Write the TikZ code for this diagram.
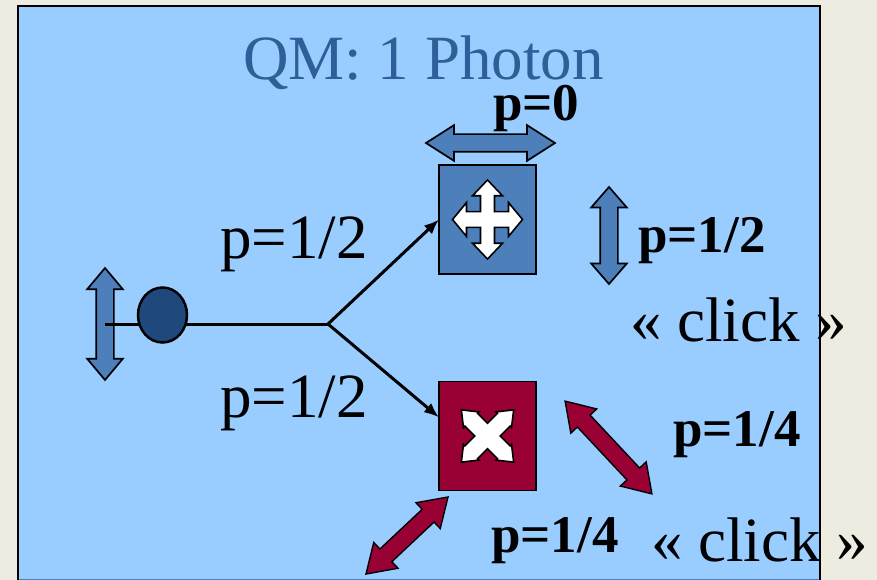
\documentclass[tikz,border=0pt]{standalone}
\usepackage{fontspec}
\setmainfont{Liberation Serif}
\usetikzlibrary{arrows.meta}
\usetikzlibrary{shapes.geometric}
\usetikzlibrary{shapes.arrows}

\definecolor{slide}{HTML}{99CCFF}
\definecolor{page}{HTML}{EEEBE0}
\definecolor{steel}{HTML}{4D7FBA}
\definecolor{navy}{HTML}{1F497D}
\definecolor{crimson}{HTML}{990033}
\definecolor{heading}{HTML}{2F5F99}

\tikzset{
    polar/.style={draw=black, line width=1.7pt, shape=double arrow, inner sep=0pt, inner ysep=8pt,
        double arrow head extend=9pt, minimum height=#1, double arrow tip angle=70, anchor=center},
    polar/.default=100pt,
    bluepol/.style={polar=#1, fill=steel},
    redpol/.style={polar=#1, fill=crimson, line width=1.4pt},
    filterbox/.style={draw=black, line width=1.5pt, minimum width=97pt, minimum height=109pt, inner sep=0pt, outer sep=0pt},
    ray/.style={line width=3pt, -{Latex[length=15pt,width=12pt]}},
    big/.style={anchor=base west, inner sep=0pt, font=\fontsize{63}{70}\selectfont},
    prob/.style={anchor=base west, inner sep=0pt, font=\fontsize{53}{60}\selectfont\bfseries},
}

% #1 scope options, #2 tip, #3 head base, #4 head half width, #5 shaft half width
\newcommand{\moveglyph}[5]{
    \begin{scope}[#1]
    \filldraw[fill=white, draw=black, line width=1.6pt, miter limit=4]
        (#2, 0) -- (#3, #4) -- (#3, #5) -- (#5, #5) -- (#5, #3) -- (#4, #3) --
        (0, #2) -- (-#4, #3) -- (-#5, #3) -- (-#5, #5) -- (-#3, #5) -- (-#3, #4) --
        (-#2, 0) -- (-#3, -#4) -- (-#3, -#5) -- (-#5, -#5) -- (-#5, -#3) -- (-#4, -#3) --
        (0, -#2) -- (#4, -#3) -- (#5, -#3) -- (#5, -#5) -- (#3, -#5) -- (#3, -#4) -- cycle;
    \end{scope}
}

\begin{document}
\begin{tikzpicture}[x=1pt, y=-1pt]
    \useasboundingbox (0, 0) rectangle (877, 580);
    \fill[page] (0, 0) rectangle (877, 580);
    \fill[slide] (18, 6) rectangle (820, 579);
    \draw[line width=1pt, steel] (18, 579) -- (820, 579);
    \draw[line width=2.5pt, line cap=rect] (18, 579) -- (18, 6) -- (820, 6) -- (820, 580);

    \node[big, text=heading] (title) at (243, 80) {QM: 1 Photon};

    \coordinate (split) at (328, 324);
    \node[bluepol=112pt, double arrow tip angle=80, rotate=90] (polin) at (105, 324) {};
    \draw[line width=3pt] (polin.center) -- (split);
    \node[draw=black, fill=navy, line width=2.5pt, shape=ellipse, minimum width=49pt, minimum height=55pt, inner sep=0pt] (photon) at (162.5, 315) {};

    \node[filterbox, fill=steel] (boxtop) at (487.5, 219.5) {};
    \node[filterbox, fill=crimson] (boxbot) at (487.5, 436) {};
    \moveglyph{shift={(boxtop.center)}, yscale=1.13}{35}{21}{15}{7}
    \moveglyph{shift={(boxbot.center)}, rotate=45}{37}{23}{11}{9}

    \draw[ray] (split) -- (boxtop.west);
    \draw[ray] (split) -- (boxbot.159);

    \node[bluepol=129pt, double arrow tip angle=65] (polh) at (490.5, 143) {};
    \node[bluepol=97pt, double arrow tip angle=82, rotate=90] (polv) at (609, 235.5) {};
    \node[redpol=127pt, double arrow tip angle=66, rotate=-46.9] (poldiag) at (608.5, 447.5) {};
    \node[redpol=112.5pt, double arrow tip angle=66, rotate=43.2] (polanti) at (407, 535.5) {};

    \node[big] (pup) at (220, 258) {p=1/2};
    \node[big] (pdown) at (220, 417) {p=1/2};
    \node[prob] (pzero) at (493, 121) {p=0};
    \node[prob] (pvert) at (638, 252) {p=1/2};
    \node[prob] (pdiag) at (673, 446) {p=1/4};
    \node[prob] (panti) at (491, 552) {p=1/4};
    \node[big] (clickup) at (630, 341) {« click »};
    \node[big] (clickdown) at (651, 561) {« click »};
\end{tikzpicture}
\end{document}
